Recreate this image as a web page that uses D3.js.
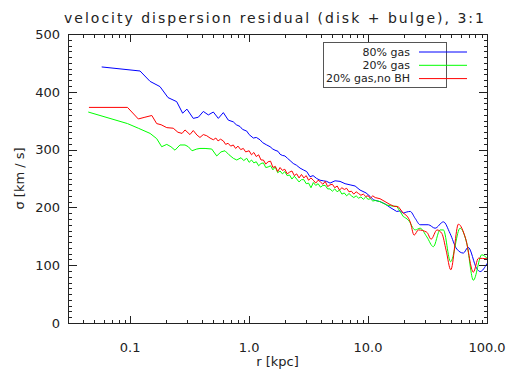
<!DOCTYPE html>
<html>
<head>
<meta charset="utf-8">
<script src="https://cdn.jsdelivr.net/npm/d3@7/dist/d3.min.js"></script>
</head>
<body style="margin:0">
<svg id="chart" width="508" height="376"></svg>
<script>
// Velocity dispersion profiles, sigma [km/s] against radius r [kpc]
const titleText = "velocity dispersion residual (disk + bulge), 3:1";
const xLabel = "r [kpc]";
const yLabel = "\u03c3 [km / s]";

const xMajorTicks = [0.1, 1, 10, 100];
const yMajorTicks = [0, 100, 200, 300, 400, 500];

const seriesNames = ["80% gas", "20% gas", "20% gas,no BH"];
const seriesColors = ["#0000ff", "#00ff00", "#ff0000"];

// [r (kpc), sigma (km/s)]
const gas80 = [
  [0.0576,443],[0.121,436],[0.147,418],[0.178,409],[0.208,390],[0.246,383],[0.276,363],
  [0.300,370],[0.339,354],[0.374,356],[0.412,366],[0.454,360],[0.50,365],[0.551,354],
  [0.607,364],[0.668,351],[0.736,348],[0.78,343],[0.838,340],[0.88,335],[0.955,332],
  [1.0,326],[1.085,320],[1.15,321],[1.235,317],[1.30,312],[1.406,308],[1.50,305],
  [1.58,301],[1.65,299],[1.75,297],[1.82,292],[1.90,290],[2.00,289],[2.10,285],
  [2.21,281],[2.35,276],[2.50,273],[2.68,268],[2.85,265],[3.05,262],[3.25,253],
  [3.45,255],[3.70,250],[3.95,247],[4.20,246],[4.49,245],[4.79,242],[5.28,246],
  [5.81,245],[6.41,241],[7.06,239],[7.78,237],[8.56,230],[9.62,225],[10.4,219],
  [11.1,213],[12.6,210],[13.9,206],[15.3,200],[17.4,193],[18.6,194],[19.8,190],
  [22.6,193],[24.9,181],[27.4,170],[32.1,170],[36.6,164],[43.0,175],[48.9,155],
  [55.7,128],[63.3,121],[69.4,131],[82.1,94],[87.5,89],[100,103]
];

const gas20 = [
  [0.0444,365],[0.0949,345],[0.117,337],[0.147,328],[0.167,319],[0.184,305],[0.203,309],
  [0.220,305],[0.238,299],[0.262,308],[0.289,308],[0.308,305],[0.331,298],[0.363,301],
  [0.386,302],[0.426,302],[0.485,301],[0.534,289],[0.580,296],[0.627,298],[0.678,291],
  [0.736,285],[0.787,282],[0.855,286],[0.90,281],[0.955,285],
  [1.000,278],[1.047,282],[1.096,277],[1.148,279],[1.202,272],[1.259,276],[1.318,277],
  [1.380,269],[1.445,270],[1.514,272],[1.585,265],[1.660,270],[1.738,260],[1.820,263],
  [1.905,258],[1.995,262],[2.089,255],[2.188,256],[2.291,249],[2.399,254],[2.512,249],
  [2.630,244],[2.754,248],[2.884,248],[3.020,241],[3.162,242],[3.311,234],[3.467,243],
  [3.631,238],[3.802,241],[3.981,235],[4.169,238],[4.365,238],[4.571,232],[4.786,232],
  [5.012,228],[5.248,232],[5.495,227],[5.754,230],[6.026,223],[6.310,225],[6.607,220],
  [6.918,224],[7.244,220],[7.586,217],[7.943,220],[8.318,216],[8.710,218],[9.120,214],
  [9.550,218],[10.00,214],[10.47,215],[10.96,211],[11.48,212],
  [12.6,210],[14.4,204],[16.3,202],[17.4,202],[18.6,193],[19.8,184],[21.8,178],[24.9,161],
  [27.4,164],[31.2,149],[35.4,132],[40.3,161],[43.0,161],[49.4,106],[59.4,164],
  [67.6,138],[76.8,74],[90.4,118],[100,112]
];

const gas20NoBH = [
  [0.045,373],[0.0949,373],[0.117,353],[0.133,356],[0.152,359],[0.167,345],[0.182,343],
  [0.203,338],[0.230,337],[0.252,330],[0.273,328],[0.289,334],[0.318,326],[0.339,333],
  [0.365,325],[0.386,321],[0.412,326],[0.440,324],[0.469,320],[0.50,317],[0.525,320],
  [0.548,315],[0.575,318],[0.607,315],[0.635,309],[0.665,311],[0.70,306],[0.736,308],
  [0.77,302],[0.806,306],[0.85,300],[0.894,302],[0.935,296],
  [1.000,298],[1.047,291],[1.096,295],[1.148,288],[1.202,291],[1.259,282],[1.318,282],
  [1.380,275],[1.445,279],[1.514,280],[1.585,269],[1.660,271],[1.738,262],[1.820,269],
  [1.905,264],[1.995,266],[2.089,258],[2.188,261],[2.291,263],[2.399,255],[2.512,258],
  [2.630,251],[2.754,257],[2.884,251],[3.020,255],[3.162,247],[3.311,251],[3.467,247],
  [3.631,242],[3.802,247],[3.981,244],[4.169,240],[4.365,245],[4.571,236],[4.786,239],
  [5.012,240],[5.248,234],[5.495,237],[5.754,230],[6.026,234],[6.310,231],[6.607,233],
  [6.918,227],[7.244,228],[7.586,223],[7.943,227],[8.318,224],[8.710,221],[9.120,223],
  [9.550,219],[10.00,220],[10.47,216],[10.96,220],[11.48,217],
  [12.6,215],[13.9,210],[15.3,205],[16.5,202],[18.0,201],[19.8,190],[22.6,175],[24.4,152],
  [26.5,161],[31.2,157],[33.9,145],[38.0,161],[41.7,155],[45.3,126],[49.6,92],
  [57.5,171],[66.1,146],[76.8,88],[84.7,112],[100,111]
];

const allSeries = [gas80, gas20, gas20NoBH];

// outer profile (sparser sampling) is drawn as a smooth curve
const smoothFrom = 19.8;

const svg = d3.select("#chart");
const plot = { left: 68, right: 487, top: 34, bottom: 323 };
const axisColor = "#222";
const textColor = "#222";
const fontFamily = "DejaVu Sans, sans-serif";

const x = d3.scaleLog().domain([0.03, 100]).range([plot.left, plot.right]);
const y = d3.scaleLinear().domain([0, 500]).range([plot.bottom, plot.top]);

// minor tick positions
const xMinor = [];
[0.01, 0.1, 1, 10].forEach(dec => {
  for (let k = 2; k <= 9; k++) {
    const v = dec * k;
    if (v >= 0.03 && v < 100) xMinor.push(v);
  }
});
const yMinor = d3.range(0, 501, 10).filter(v => v % 100 !== 0);

function addText(sel) {
  return sel.append("text").attr("font-family", fontFamily).attr("fill", textColor);
}

// title
addText(svg)
  .attr("x", 274).attr("y", 22.5)
  .attr("text-anchor", "middle")
  .attr("font-size", 14)
  .attr("textLength", 420)
  .attr("lengthAdjust", "spacing")
  .text(titleText);

// data lines, clipped to the plot area
const defs = svg.append("defs");
defs.append("clipPath").attr("id", "plotclip")
  .append("rect")
  .attr("x", plot.left).attr("y", plot.top)
  .attr("width", plot.right - plot.left).attr("height", plot.bottom - plot.top);

const innerLine = d3.line().x(d => x(d[0])).y(d => y(d[1]));
const outerLine = d3.line().x(d => x(d[0])).y(d => y(d[1])).curve(d3.curveMonotoneX);
const lines = svg.append("g").attr("clip-path", "url(#plotclip)");
allSeries.forEach((s, i) => {
  const inner = s.filter(d => d[0] <= smoothFrom);
  const outer = s.filter(d => d[0] >= smoothFrom);
  [[inner, innerLine], [outer, outerLine]].forEach(([pts, gen]) => {
    lines.append("path")
      .datum(pts)
      .attr("fill", "none")
      .attr("stroke", seriesColors[i])
      .attr("stroke-width", 1)
      .attr("stroke-linejoin", "round")
      .attr("d", gen);
  });
});

// frame
svg.append("rect")
  .attr("x", plot.left + 0.5).attr("y", plot.top + 0.5)
  .attr("width", plot.right - plot.left).attr("height", plot.bottom - plot.top)
  .attr("fill", "none").attr("stroke", axisColor).attr("stroke-width", 1);

// tick labels
const fmtX = d3.format(".1f");
xMajorTicks.forEach(v => {
  addText(svg).attr("x", x(v)).attr("y", 352)
    .attr("text-anchor", "middle").attr("font-size", 13)
    .text(fmtX(v));
});
yMajorTicks.forEach(v => {
  addText(svg).attr("x", 60).attr("y", y(v) + 4.7)
    .attr("text-anchor", "end").attr("font-size", 13)
    .text(d3.format("d")(v));
});

// axis titles
addText(svg)
  .attr("x", (plot.left + plot.right) / 2).attr("y", 366)
  .attr("text-anchor", "middle").attr("font-size", 13)
  .text(xLabel);
addText(svg)
  .attr("transform", `translate(24,${(plot.top + plot.bottom) / 2}) rotate(-90)`)
  .attr("text-anchor", "middle").attr("font-size", 13)
  .text(yLabel);

// legend
const legend = svg.append("g");
legend.append("rect")
  .attr("x", 323.5).attr("y", 42.5).attr("width", 123).attr("height", 45)
  .attr("fill", "#fff").attr("stroke", "#555").attr("stroke-width", 1);
seriesNames.forEach((name, i) => {
  const ly = 52 + i * 13.3;
  addText(legend)
    .attr("x", 410).attr("y", ly + 3.8)
    .attr("text-anchor", "end").attr("font-size", 11)
    .text(name);
  legend.append("line")
    .attr("x1", 419).attr("x2", 467).attr("y1", ly).attr("y2", ly)
    .attr("stroke", seriesColors[i]).attr("stroke-width", 1);
});

// tick marks on all four sides, pointing into the plot, drawn as filled 1px bars
const tickG = svg.append("g").attr("fill", axisColor);
function xTickBars(values, len) {
  values.forEach(v => {
    const px = Math.round(x(v));
    tickG.append("rect").attr("x", px).attr("y", plot.bottom - len + 1)
      .attr("width", 1).attr("height", len);
    tickG.append("rect").attr("x", px).attr("y", plot.top)
      .attr("width", 1).attr("height", len);
  });
}
function yTickBars(values, len) {
  values.forEach(v => {
    const py = Math.round(y(v));
    tickG.append("rect").attr("x", plot.left).attr("y", py)
      .attr("width", len).attr("height", 1);
    tickG.append("rect").attr("x", plot.right - len + 1).attr("y", py)
      .attr("width", len).attr("height", 1);
  });
}
xTickBars(xMajorTicks, 8);
xTickBars(xMinor, 4);
yTickBars(yMajorTicks, 9);
yTickBars(yMinor, 4);
</script>
</body>
</html>
